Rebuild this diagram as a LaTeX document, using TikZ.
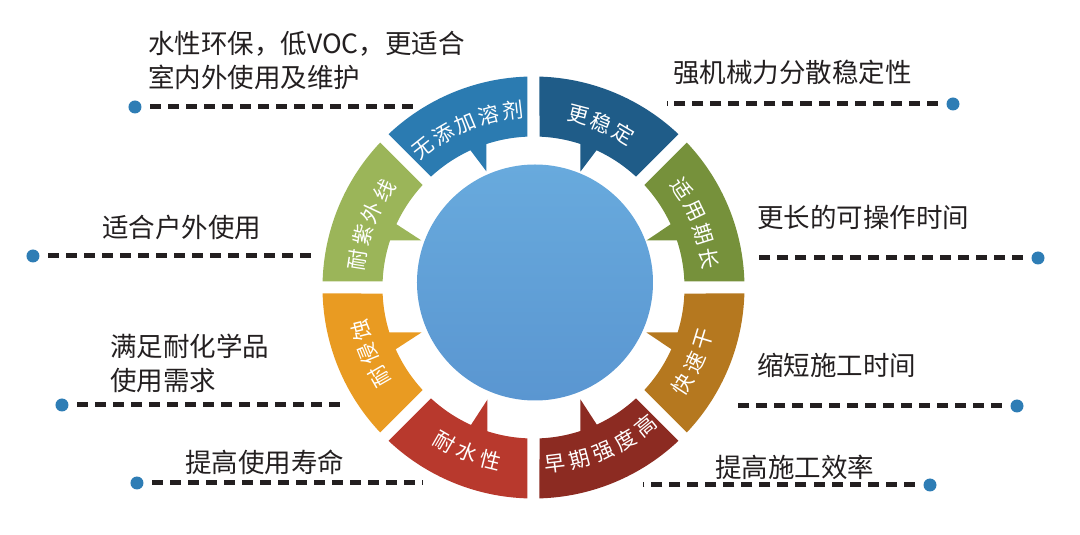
\documentclass[tikz,border=0pt]{standalone}
\usepackage{fontspec}
\setmainfont{Noto Sans CJK SC}
\definecolor{segblue}{HTML}{2B7BB1}
\definecolor{segnavy}{HTML}{1F5C88}
\definecolor{seggreenR}{HTML}{76913B}
\definecolor{seggreenL}{HTML}{9BB559}
\definecolor{segorange}{HTML}{E99B22}
\definecolor{segbrown}{HTML}{B5781F}
\definecolor{segred}{HTML}{B8392D}
\definecolor{segmaroon}{HTML}{8C2B22}
\definecolor{dotblue}{HTML}{2E7DB5}
\definecolor{txtdark}{HTML}{231F20}
\definecolor{hubtop}{HTML}{68AADD}
\definecolor{hubbot}{HTML}{5A96D1}
\newcommand\ringseg[3]{%
  \pgfmathsetmacro\segAo{#1+1.63}%
  \pgfmathsetmacro\segBo{#2-1.63}%
  \pgfmathsetmacro\segAi{#1+2.28}%
  \pgfmathsetmacro\segBi{#2-2.28}%
  \fill[#3] (\segAo:211pt) arc[start angle=\segAo,end angle=\segBo,radius=211pt]
    -- (\segBi:151pt) arc[start angle=\segBi,end angle=\segAi,radius=151pt] -- cycle;}
\newcommand\arclabel[5]{%
  \foreach \ch [count=\ci] in {#4} {%
    \pgfmathsetmacro\chAng{#1-(#3)*(\ci-(#2+1)/2)*8.0}%
    \pgfmathsetmacro\chRot{\chAng-90*(#3)}%
    \node[seglabel, rotate=\chRot] (#5-\ci) at (\chAng:178pt) {\ch};
  }}
\begin{document}
\begin{tikzpicture}[x=1pt,y=1pt,
  seglabel/.style={text=white, font=\fontsize{21}{21}\selectfont, inner sep=0pt},
  sidetext/.style={text=txtdark, font=\fontsize{26.5}{34}\selectfont, inner sep=0pt, anchor=west, align=left},
  leaddot/.style={circle, fill=dotblue, minimum size=13pt, inner sep=0pt, outer sep=0pt},
  leader/.style={draw=txtdark, line width=5pt, dash pattern=on 11pt off 7pt, shorten <=9pt}]
\useasboundingbox (-533.5,-247.5) rectangle (546.5,287.5);
% ring segments
\ringseg{90}{135}{segblue}
\ringseg{45}{90}{segnavy}
\ringseg{0}{45}{seggreenR}
\ringseg{135}{180}{seggreenL}
\ringseg{180}{225}{segorange}
\ringseg{315}{360}{segbrown}
\ringseg{225}{270}{segred}
\ringseg{270}{315}{segmaroon}
% tails
\fill[segblue] (-47,116) -- (-47,148) -- (-65.5,140.5) -- cycle;
\fill[segnavy] (47,116) -- (47,148) -- (65.5,140.5) -- cycle;
\fill[seggreenL] (-112,47) -- (-148,47) -- (-140.5,65.5) -- cycle;
\fill[seggreenR] (113,47) -- (148,47) -- (140.5,65.5) -- cycle;
\fill[segorange] (-112,-45) -- (-148,-45) -- (-140.5,-63.5) -- cycle;
\fill[segbrown] (113,-45) -- (148,-45) -- (140.5,-63.5) -- cycle;
\fill[segred] (-46,-112) -- (-46,-148) -- (-64.5,-140.5) -- cycle;
\fill[segmaroon] (47,-112) -- (47,-148) -- (65.5,-140.5) -- cycle;
% hub
\node[circle, minimum size=236pt, inner sep=0pt, top color=hubtop, bottom color=hubbot] (hub) at (1.5,5) {};
% segment labels
\arclabel{112.5}{5}{1}{无,添,加,溶,剂}{labA}
\arclabel{67.5}{3}{1}{更,稳,定}{labB}
\arclabel{21.5}{4}{1}{适,用,期,长}{labC}
\arclabel{159}{4}{1}{耐,紫,外,线}{labD}
\arclabel{202}{3}{1}{耐,侵,蚀}{labE}
\arclabel{-25}{3}{-1}{快,速,干}{labF}
\arclabel{248}{3}{-1}{耐,水,性}{labG}
\arclabel{293}{5}{-1}{早,期,强,度,高}{labH}
% side texts
\node[sidetext] (t1) at (-385.5,227.5) {水性环保，低VOC，更适合\\室内外使用及维护};
\node[sidetext] (t2) at (139.5,215.5) {强机械力分散稳定性};
\node[sidetext] (t3) at (-431.5,60.5) {适合户外使用};
\node[sidetext] (t4) at (223.5,70.5) {更长的可操作时间};
\node[sidetext] (t5) at (-423.5,-76) {满足耐化学品\\使用需求};
\node[sidetext] (t6) at (223.5,-77.5) {缩短施工时间};
\node[sidetext] (t7) at (-348.5,-174.5) {提高使用寿命};
\node[sidetext] (t8) at (181.5,-179.5) {提高施工效率};
% leader lines
\node[leaddot] (d1) at (-398.5,180.5) {};
\coordinate (e1) at (-113.5,180.5);
\draw[leader] (d1) -- (e1);
\node[leaddot] (d2) at (419.5,183.5) {};
\coordinate (e2) at (133.5,183.5);
\draw[leader] (d2) -- (e2);
\node[leaddot] (d3) at (-500.5,31.5) {};
\coordinate (e3) at (-215.5,31.5);
\draw[leader] (d3) -- (e3);
\node[leaddot] (d4) at (504.5,29.5) {};
\coordinate (e4) at (219.5,29.5);
\draw[leader] (d4) -- (e4);
\node[leaddot] (d5) at (-471.5,-117.5) {};
\coordinate (e5) at (-186.5,-117.5);
\draw[leader] (d5) -- (e5);
\node[leaddot] (d6) at (483.5,-118.5) {};
\coordinate (e6) at (198.5,-118.5);
\draw[leader] (d6) -- (e6);
\node[leaddot] (d7) at (-396.5,-195.5) {};
\coordinate (e7) at (-110.5,-195.5);
\draw[leader] (d7) -- (e7);
\node[leaddot] (d8) at (396.5,-197.5) {};
\coordinate (e8) at (109.5,-197.5);
\draw[leader] (d8) -- (e8);
\end{tikzpicture}
\end{document}
